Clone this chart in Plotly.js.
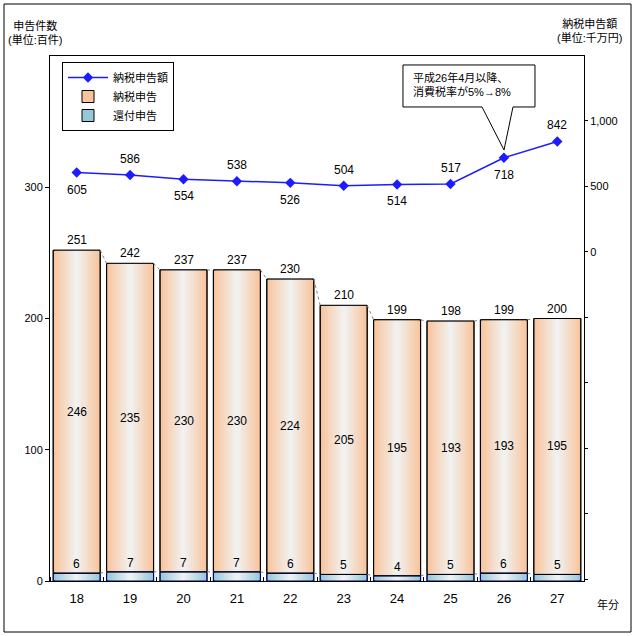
<!DOCTYPE html>
<html><head><meta charset="utf-8">
<script src="https://cdn.plot.ly/plotly-3.0.1.min.js"></script>
<style>html,body{margin:0;padding:0;background:#fff}</style>
</head><body><div id="chart" style="width:637px;height:636px"></div>
<script>
// ---- data ----
const years = ['18','19','20','21','22','23','24','25','26','27'];
const taxPaidFilings = [246,235,230,230,224,205,195,193,193,195];
const refundFilings = [6,7,7,7,6,5,4,5,6,5];
const totalFilings = [251,242,237,237,230,210,199,198,199,200];
const taxAmount = [605,586,554,538,526,504,514,517,718,842];
const leftTicks = [0,100,200,300];
const rightTickLabels = {0:'0',500:'500',1000:'1,000'};

// ---- layout helpers ----
const W = 637, H = 636, ML = 50, MR = 53, MT = 56, MB = 55;
const PW = W-ML-MR, PH = H-MT-MB;
const px = p => (p-ML)/PW;
const py = p => (H-MB-p)/PH;
const BAR_W = 0.88, N = 18;
const FONT = 'Liberation Sans, Noto Sans CJK JP, sans-serif';

function mix(a,b,t){return 'rgb('+a.map((v,i)=>Math.round(v+(b[i]-v)*t)).join(',')+')';}
const xs = years.map((_,i)=>i);
const zeros = xs.map(()=>0);

const traces = [];
traces.push({type:'scatter', x:xs, y:taxAmount, yaxis:'y2', mode:'lines+markers', name:'納税申告額',
  line:{color:'#1c1cff', width:1.5}, marker:{symbol:'diamond', size:8, color:'#1c1cff'},
  legendrank:1, hoverinfo:'y'});

const series = [
  {vals:refundFilings, base:zeros, edge:[150,200,218], center:[238,242,242], name:'還付申告', rank:3, outline:'#000080'},
  {vals:taxPaidFilings, base:refundFilings, edge:[249,196,156], center:[240,241,240], name:'納税申告', rank:2, outline:'#000000'}
];
series.forEach(s=>{
  for(let k=0;k<N;k++){
    const t = k/(N-1);
    traces.push({type:'bar', x:xs, y:s.vals, base:s.base, width:BAR_W*(1-k/N),
      marker:{color:mix(s.edge,s.center,t), line:{width:k===0?1:0, color:'#000'}},
      name:s.name, showlegend:k===0, legendrank:s.rank, hoverinfo:'skip'});
  }
});
series.forEach(s=>{
  traces.push({type:'bar', x:xs, y:s.vals, base:s.base, width:BAR_W,
    marker:{color:'rgba(0,0,0,0)', line:{width:1, color:s.outline}},
    showlegend:false, hoverinfo:'skip'});
});

// series (connector) lines
const tops = xs.map(i=>refundFilings[i]+taxPaidFilings[i]);
const sx=[], sy=[];
for(let i=0;i<xs.length-1;i++){
  [tops, refundFilings].forEach(arr=>{
    sx.push(i+BAR_W/2, i+1-BAR_W/2, null);
    sy.push(arr[i], arr[i+1], null);
  });
}
traces.push({type:'scatter', x:sx, y:sy, mode:'lines', line:{color:'#808080', width:1, dash:'dot'},
  showlegend:false, hoverinfo:'skip'});

// annotations
const ann = [];
xs.forEach(i=>{
  ann.push({x:i, y:tops[i], xref:'x', yref:'y', text:String(totalFilings[i]), showarrow:false, yanchor:'bottom', yshift:1, font:{size:12}});
  ann.push({x:i, y:refundFilings[i]+taxPaidFilings[i]/2, xref:'x', yref:'y', text:String(taxPaidFilings[i]), showarrow:false, font:{size:12}});
  ann.push({x:i, y:refundFilings[i], xref:'x', yref:'y', text:String(refundFilings[i]), showarrow:false, yanchor:'bottom', yshift:0, font:{size:12}});
  const above = i%2===1;
  ann.push({x:i, y:taxAmount[i], xref:'x', yref:'y2', text:String(taxAmount[i]), showarrow:false, yshift:above?16:-17, font:{size:12}});
});
ann.push({xref:'paper', yref:'paper', x:px(35), y:py(33), xanchor:'center', yanchor:'middle', text:'申告件数<br>(単位:百件)', showarrow:false, align:'center', font:{size:11}});
ann.push({xref:'paper', yref:'paper', x:px(589), y:py(30), xanchor:'center', yanchor:'middle', text:'納税申告額<br>(単位:千万円)', showarrow:false, align:'center', font:{size:11}});
ann.push({xref:'paper', yref:'paper', x:px(608), y:py(604), xanchor:'center', yanchor:'middle', text:'年分', showarrow:false, font:{size:11}});
ann.push({xref:'paper', yref:'paper', x:px(411), y:py(85), xanchor:'left', yanchor:'middle', text:'平成26年4月以降、<br>消費税率が5%→8%', showarrow:false, align:'left', font:{size:11}});

const callout = [[403,65],[535,65],[535,107],[513,107],[504,150],[482,107],[403,107]]
  .map((p,j)=>(j?'L':'M')+px(p[0]).toFixed(4)+','+py(p[1]).toFixed(4)).join(' ')+' Z';

const shapes = [
  {type:'rect', xref:'paper', yref:'paper', x0:px(4), x1:px(631), y0:py(632), y1:py(4), line:{color:'#000', width:1}},
  {type:'path', xref:'paper', yref:'paper', path:callout, fillcolor:'#fff', line:{color:'#000', width:1}, layer:'above'}
];

const rightVals = [];
for(let v=-2500; v<=1500; v+=500) rightVals.push(v);

const layout = {
  width:W, height:H, margin:{l:ML, r:MR, t:MT, b:MB, pad:0},
  paper_bgcolor:'#fff', plot_bgcolor:'#fff',
  font:{family:FONT, size:11, color:'#000'},
  barmode:'overlay', bargap:0,
  showlegend:true,
  legend:{x:px(62), y:py(62), xanchor:'left', yanchor:'top', bgcolor:'#fff', bordercolor:'#000', borderwidth:1,
    font:{size:11}, traceorder:'normal', itemwidth:40},
  xaxis:{range:[-0.5, xs.length-0.5], tickvals:xs, ticktext:years, ticks:'', showgrid:false, zeroline:false,
    showline:true, mirror:true, linecolor:'#000', linewidth:1, tickfont:{size:13}, ticklabelstandoff:5,
    minor:{tickmode:'array', tickvals:xs.concat([xs.length]).map(i=>i-0.5), ticks:'inside', ticklen:4, tickcolor:'#000', showgrid:false}},
  yaxis:{range:[0,400], tickvals:leftTicks, ticks:'outside', ticklen:4, tickcolor:'#000', showgrid:false, zeroline:false,
    showline:true, linecolor:'#000', linewidth:1, tickfont:{size:11}},
  yaxis2:{overlaying:'y', side:'right', range:[-2515,1495], tickvals:rightVals,
    ticktext:rightVals.map(v=>rightTickLabels[v]||''), ticks:'outside', ticklen:3, tickcolor:'#000',
    showgrid:false, zeroline:false, showline:true, linecolor:'#000', linewidth:1, tickfont:{size:11}},
  annotations:ann, shapes:shapes
};
Plotly.newPlot('chart', traces, layout, {displayModeBar:false, staticPlot:true});
</script></body></html>
